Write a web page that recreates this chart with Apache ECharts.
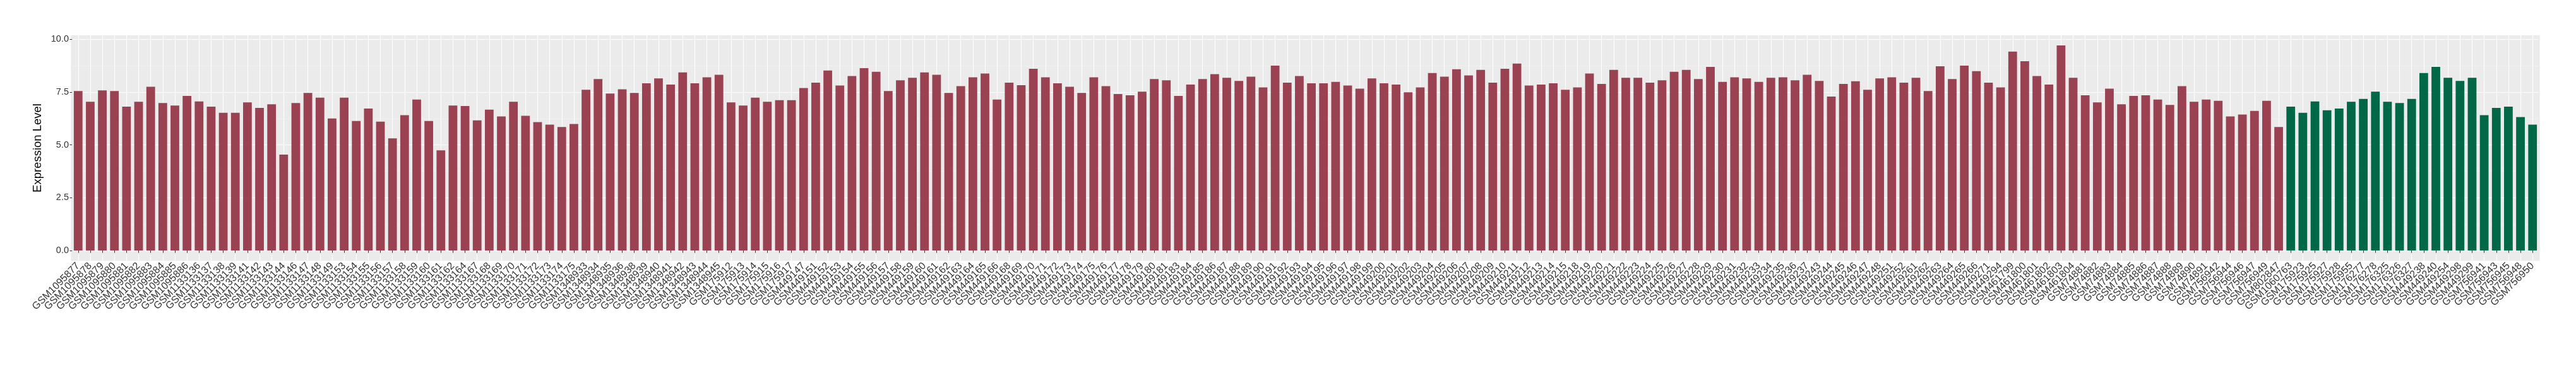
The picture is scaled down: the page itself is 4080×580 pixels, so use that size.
<!DOCTYPE html>
<html><head><meta charset="utf-8">
<script src="https://cdn.jsdelivr.net/npm/echarts@6/dist/echarts.min.js"></script>
<style>html,body{margin:0;padding:0;background:#fff}#c{width:4080px;height:580px}</style>
</head><body><div id="c"></div>
<script>
const redSamples = [
'GSM1095877','GSM1095878','GSM1095879','GSM1095880','GSM1095881','GSM1095882','GSM1095883','GSM1095884','GSM1095885','GSM1095886',
'GSM1133136','GSM1133137','GSM1133138','GSM1133139','GSM1133141','GSM1133142','GSM1133143','GSM1133144','GSM1133146','GSM1133147',
'GSM1133148','GSM1133149','GSM1133153','GSM1133154','GSM1133155','GSM1133156','GSM1133157','GSM1133158','GSM1133159','GSM1133160',
'GSM1133161','GSM1133162','GSM1133164','GSM1133167','GSM1133168','GSM1133169','GSM1133170','GSM1133171','GSM1133172','GSM1133173',
'GSM1133174','GSM1133175','GSM1348933','GSM1348934','GSM1348935','GSM1348936','GSM1348938','GSM1348939','GSM1348940','GSM1348941',
'GSM1348942','GSM1348943','GSM1348944','GSM1348945','GSM175912','GSM175913','GSM175914','GSM175915','GSM175916','GSM175917',
'GSM449147','GSM449151','GSM449152','GSM449153','GSM449154','GSM449155','GSM449156','GSM449157','GSM449158','GSM449159',
'GSM449160','GSM449161','GSM449162','GSM449163','GSM449164','GSM449165','GSM449166','GSM449168','GSM449169','GSM449170',
'GSM449171','GSM449172','GSM449173','GSM449174','GSM449175','GSM449176','GSM449177','GSM449178','GSM449179','GSM449180',
'GSM449181','GSM449183','GSM449184','GSM449185','GSM449186','GSM449187','GSM449188','GSM449189','GSM449190','GSM449191',
'GSM449192','GSM449193','GSM449194','GSM449195','GSM449196','GSM449197','GSM449198','GSM449199','GSM449200','GSM449201',
'GSM449202','GSM449203','GSM449204','GSM449205','GSM449206','GSM449207','GSM449208','GSM449209','GSM449210','GSM449211',
'GSM449212','GSM449213','GSM449214','GSM449215','GSM449218','GSM449219','GSM449220','GSM449221','GSM449222','GSM449223',
'GSM449224','GSM449225','GSM449226','GSM449227','GSM449228','GSM449229','GSM449230','GSM449231','GSM449232','GSM449233',
'GSM449234','GSM449235','GSM449236','GSM449237','GSM449243','GSM449244','GSM449245','GSM449246','GSM449247','GSM449248',
'GSM449251','GSM449252','GSM449261','GSM449262','GSM449263','GSM449264','GSM449265','GSM449266','GSM449271','GSM449294',
'GSM461799','GSM461800','GSM461801','GSM461802','GSM461803','GSM461804','GSM74881','GSM74882','GSM74883','GSM74884',
'GSM74885','GSM74886','GSM74887','GSM74888','GSM74889','GSM74890','GSM74891','GSM756942','GSM756944','GSM756946',
'GSM756947','GSM756949','GSM802847'
];
const redValues = [
7.55,7.04,7.58,7.55,6.81,7.04,7.75,6.98,6.86,7.32,
7.06,6.81,6.52,6.52,7.01,6.75,6.92,4.54,6.98,7.46,
7.24,6.25,7.24,6.13,6.72,6.10,5.31,6.41,7.15,6.13,
4.74,6.86,6.84,6.16,6.67,6.35,7.04,6.38,6.08,5.96,
5.85,5.99,7.61,8.12,7.43,7.63,7.46,7.92,8.15,7.86,
8.43,7.92,8.20,8.32,7.01,6.86,7.24,7.04,7.12,7.12,
7.69,7.95,8.52,7.81,8.26,8.63,8.46,7.55,8.06,8.18,
8.43,8.32,7.46,7.78,8.20,8.38,7.15,7.95,7.83,8.60,
8.20,7.92,7.75,7.46,8.20,7.78,7.41,7.35,7.52,8.12,
8.06,7.32,7.86,8.12,8.35,8.18,8.03,8.23,7.72,8.75,
7.95,8.26,7.92,7.92,7.98,7.81,7.66,8.15,7.92,7.86,
7.49,7.72,8.40,8.23,8.58,8.29,8.55,7.95,8.60,8.85,
7.81,7.86,7.92,7.61,7.72,8.38,7.89,8.55,8.18,8.18,
7.95,8.06,8.46,8.55,8.12,8.69,7.98,8.20,8.15,7.98,
8.18,8.20,8.06,8.32,8.03,7.29,7.89,8.01,7.61,8.15,
8.20,7.95,8.18,7.55,8.72,8.12,8.75,8.49,7.95,7.72,
9.42,8.96,8.26,7.86,9.71,8.18,7.35,7.01,7.66,6.92,
7.32,7.35,7.15,6.89,7.78,7.04,7.15,7.09,6.35,6.44,
6.61,7.09,5.85
];
const greenSamples = [
'GSM1060763','GSM175923','GSM175925','GSM175927','GSM175928','GSM175955','GSM176277','GSM176278','GSM176325','GSM176326',
'GSM176327','GSM449238','GSM449240','GSM449254','GSM449298','GSM449299','GSM756941','GSM756943','GSM756945','GSM756948',
'GSM756950'
];
const greenValues = [
6.81,6.52,7.06,6.64,6.72,7.04,7.18,7.52,7.04,6.98,
7.18,8.40,8.69,8.18,8.03,8.18,6.41,6.75,6.81,6.32,
5.96
];
const yTicks = [0, 2.5, 5, 7.5, 10];
const yMinorTicks = [1.25, 3.75, 6.25, 8.75];

const RED = '#9A4251', GREEN = '#006847';
const categories = redSamples.concat(greenSamples);
const n = categories.length;
const dataMax = Math.max(...redValues, ...greenValues);
const yMin = -dataMax * 0.05, yMax = dataMax * 1.05;

// panel geometry (ggplot style: 0.6 category padding each side)
const panelLeft = 112.3, panelRight = 4022.7, panelTop = 55.7, panelBottom = 413.3;
const step = (panelRight - panelLeft) / (n + 0.2);
const FONT = 'Liberation Sans, Arial, sans-serif';
const XFS = 16;

const chart = echarts.init(document.getElementById('c'), null, {renderer: 'canvas'});
chart.setOption({
  animation: false,
  backgroundColor: '#ffffff',
  graphic: [{
    type: 'rect', z: -100, silent: true,
    shape: {x: panelLeft, y: panelTop, width: panelRight - panelLeft, height: panelBottom - panelTop},
    style: {fill: '#EBEBEB'}
  }],
  grid: {
    left: panelLeft + 0.1 * step,
    right: 4080 - (panelRight - 0.1 * step),
    top: panelTop,
    bottom: 580 - panelBottom,
    containLabel: false
  },
  xAxis: {
    type: 'category', data: categories, boundaryGap: true,
    axisLine: {show: false},
    axisTick: {show: true, interval: 0, alignWithLabel: true, length: 3.7, lineStyle: {color: '#333333', width: 1}},
    axisLabel: {interval: 0, rotate: 45, fontSize: XFS, lineHeight: XFS, padding: [XFS, 0, 0, 0],
      color: '#333333', fontFamily: FONT, margin: 5.6},
    splitLine: {show: true, interval: 0, alignWithLabel: true, lineStyle: {color: '#ffffff', width: 1.1}}
  },
  yAxis: [{
    type: 'value', min: yMin, max: yMax,
    name: 'Expression Level', nameLocation: 'middle', nameGap: 38,
    nameTextStyle: {fontSize: 18.5, color: '#000000', fontFamily: FONT},
    axisLine: {show: false},
    axisTick: {show: true, length: 3.7, customValues: yTicks, lineStyle: {color: '#333333', width: 1}},
    axisLabel: {customValues: yTicks, formatter: v => Number(v).toFixed(1), fontSize: 14.5, color: '#333333', fontFamily: FONT, margin: 5.2},
    splitLine: {show: true, customValues: yTicks, lineStyle: {color: '#ffffff', width: 1.1}}
  }, {
    type: 'value', min: yMin, max: yMax, position: 'left',
    axisLine: {show: false},
    axisTick: {show: false, customValues: yMinorTicks},
    axisLabel: {show: false, customValues: yMinorTicks},
    splitLine: {show: true, customValues: yMinorTicks, lineStyle: {color: '#F5F5F5', width: 0.6}}
  }],
  series: [{
    type: 'bar', yAxisIndex: 0, barWidth: '72%', barGap: '-100%',
    itemStyle: {color: RED},
    data: redValues.concat(greenSamples.map(() => null))
  }, {
    type: 'bar', yAxisIndex: 0, barWidth: '72%', barGap: '-100%',
    itemStyle: {color: GREEN},
    data: redSamples.map(() => null).concat(greenValues)
  }]
});
</script></body></html>
